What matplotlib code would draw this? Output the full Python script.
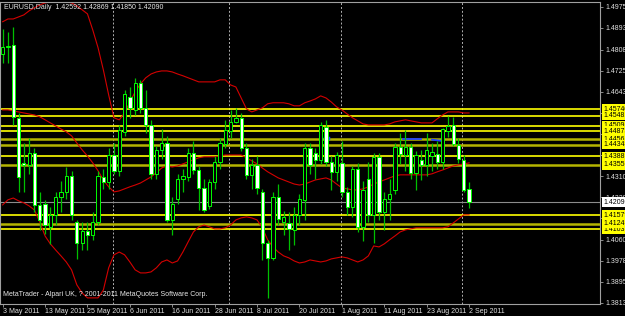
import matplotlib
matplotlib.use('Agg')
import matplotlib.pyplot as plt

plt.rcParams['font.family'] = ['Liberation Sans', 'DejaVu Sans']

# EURUSD daily, 3 May 2011 .. 2 Sep 2011
opens = [1.4790, 1.4818, 1.4826, 1.4540, 1.4363, 1.4355, 1.4400, 1.4198, 1.4200, 1.4110,
         1.4160, 1.4230, 1.4250, 1.4310, 1.4131, 1.4049, 1.4095, 1.4080, 1.4130, 1.4308,
         1.4287, 1.4395, 1.4330, 1.4486, 1.4622, 1.4571, 1.4677, 1.4580, 1.4512, 1.4320,
         1.4414, 1.4441, 1.4139, 1.4221, 1.4300, 1.4308, 1.4402, 1.4335, 1.4264, 1.4194,
         1.4288, 1.4366, 1.4437, 1.4488, 1.4524, 1.4540, 1.4422, 1.4316, 1.4355, 1.4250,
         1.4049, 1.3990, 1.4230, 1.4130, 1.4127, 1.4100, 1.4159, 1.4218, 1.4422, 1.4402,
         1.4375, 1.4504, 1.4367, 1.4327, 1.4363, 1.4249, 1.4190, 1.4340, 1.4110, 1.4300,
         1.4160, 1.4386, 1.4170, 1.4220, 1.4257, 1.4425, 1.4394, 1.4425, 1.4323, 1.4375,
         1.4355, 1.4390, 1.4398, 1.4367, 1.4488, 1.4512, 1.4433, 1.4375, 1.42592]
highs = [1.4889, 1.4877, 1.4897, 1.4559, 1.4441, 1.4460, 1.4420, 1.4250, 1.4218, 1.4190,
         1.4250, 1.4290, 1.4345, 1.4330, 1.4140, 1.4130, 1.4130, 1.4170, 1.4330, 1.4340,
         1.4420, 1.4440, 1.4510, 1.4650, 1.4660, 1.4697, 1.4690, 1.4650, 1.4530, 1.4430,
         1.4495, 1.4470, 1.4230, 1.4320, 1.4340, 1.4420, 1.4450, 1.4350, 1.4300, 1.4300,
         1.4390, 1.4460, 1.4532, 1.4571, 1.4579, 1.4560, 1.4440, 1.4380, 1.4390, 1.4260,
         1.4060, 1.4250, 1.4280, 1.4175, 1.4170, 1.4190, 1.4240, 1.4440, 1.4440, 1.4420,
         1.4524, 1.4532, 1.4390, 1.4406, 1.4450, 1.4270, 1.4350, 1.4363, 1.4290, 1.4367,
         1.4400, 1.4400, 1.4250, 1.4300, 1.4440, 1.4480, 1.4492, 1.4440, 1.4410, 1.4414,
         1.4480, 1.4440, 1.4450, 1.4500, 1.4547, 1.4544, 1.4461, 1.4394, 1.42869]
lows = [1.4755, 1.4755, 1.4512, 1.4249, 1.4249, 1.4320, 1.4170, 1.4100, 1.4085, 1.4045,
        1.4120, 1.4170, 1.4220, 1.4140, 1.3987, 1.4020, 1.4020, 1.4060, 1.4120, 1.4260,
        1.4260, 1.4320, 1.4310, 1.4470, 1.4540, 1.4550, 1.4560, 1.4480, 1.4300, 1.4300,
        1.4380, 1.4130, 1.4080, 1.4200, 1.4250, 1.4290, 1.4320, 1.4178, 1.4170, 1.4180,
        1.4260, 1.4340, 1.4420, 1.4460, 1.4520, 1.4410, 1.4300, 1.4260, 1.4240, 1.3980,
        1.3833, 1.3980, 1.4120, 1.4080, 1.4021, 1.4040, 1.4120, 1.4140, 1.4320, 1.4300,
        1.4360, 1.4350, 1.4257, 1.4290, 1.4230, 1.4160, 1.4150, 1.4090, 1.4057, 1.4130,
        1.4050, 1.4140, 1.4100, 1.4140, 1.4240, 1.4360, 1.4330, 1.4300, 1.4257, 1.4296,
        1.4310, 1.4330, 1.4340, 1.4340, 1.4465, 1.4430, 1.4363, 1.4250, 1.41850]
closes = [1.4818, 1.4822, 1.4544, 1.4308, 1.4355, 1.4400, 1.4198, 1.4140, 1.4120, 1.4160,
          1.4230, 1.4250, 1.4310, 1.4160, 1.4049, 1.4095, 1.4080, 1.4130, 1.4312, 1.4288,
          1.4395, 1.4330, 1.4492, 1.4634, 1.4580, 1.4677, 1.4580, 1.4512, 1.4320, 1.4414,
          1.4441, 1.4139, 1.4200, 1.4300, 1.4310, 1.4402, 1.4335, 1.4264, 1.4178, 1.4288,
          1.4366, 1.4441, 1.4492, 1.4524, 1.4540, 1.4422, 1.4316, 1.4355, 1.4264, 1.4049,
          1.3990, 1.4230, 1.4143, 1.4150, 1.4104, 1.4159, 1.4220, 1.4422, 1.4355, 1.4375,
          1.4512, 1.4367, 1.4327, 1.4394, 1.4249, 1.4190, 1.4340, 1.4110, 1.4257, 1.4160,
          1.4386, 1.4170, 1.4220, 1.4240, 1.4425, 1.4398, 1.4425, 1.4323, 1.4394, 1.4355,
          1.4414, 1.4406, 1.4367, 1.4496, 1.4508, 1.4437, 1.4378, 1.4257, 1.42090]

# Bollinger bands as drawn on the chart
bb_upper = [1.4917, 1.4928, 1.4928, 1.4936, 1.4944, 1.4960, 1.4972, 1.4983, 1.4991, 1.4995,
            1.4995, 1.4995, 1.4995, 1.4991, 1.4979, 1.4964, 1.4948, 1.4885, 1.4815, 1.4728,
            1.4630, 1.4540, 1.4532, 1.4559, 1.4602, 1.4642, 1.4673, 1.4697, 1.4712, 1.4720,
            1.4724, 1.4724, 1.4720, 1.4712, 1.4705, 1.4697, 1.4689, 1.4681, 1.4681, 1.4681,
            1.4681, 1.4689, 1.4689, 1.4669, 1.4661, 1.4618, 1.4575, 1.4563, 1.4571, 1.4579,
            1.4595, 1.4599, 1.4599, 1.4599, 1.4595, 1.4587, 1.4587, 1.4599, 1.4606, 1.4614,
            1.4626, 1.4618, 1.4602, 1.4583, 1.4571, 1.4555, 1.4540, 1.4528, 1.4516, 1.4512,
            1.4512, 1.4512, 1.4512, 1.4516, 1.4524, 1.4528, 1.4532, 1.4528, 1.4524, 1.4520,
            1.4520, 1.4520, 1.4536, 1.4551, 1.4563, 1.4563, 1.4563, 1.4559, 1.4559]
bb_mid = [1.4571, 1.4571, 1.4567, 1.4563, 1.4559, 1.4555, 1.4551, 1.4544, 1.4532, 1.4520,
          1.4508, 1.4496, 1.4485, 1.4469, 1.4441, 1.4414, 1.4390, 1.4363, 1.4332, 1.4296,
          1.4269, 1.4249, 1.4253, 1.4261, 1.4269, 1.4276, 1.4284, 1.4296, 1.4308, 1.4324,
          1.4343, 1.4351, 1.4347, 1.4351, 1.4359, 1.4367, 1.4375, 1.4383, 1.4387, 1.4387,
          1.4387, 1.4390, 1.4394, 1.4394, 1.4394, 1.4394, 1.4383, 1.4371, 1.4359, 1.4343,
          1.4328, 1.4316, 1.4304, 1.4296, 1.4288, 1.4280, 1.4276, 1.4280, 1.4288, 1.4296,
          1.4300, 1.4304, 1.4296, 1.4280, 1.4265, 1.4261, 1.4257, 1.4257, 1.4261, 1.4269,
          1.4280, 1.4288, 1.4296, 1.4304, 1.4312, 1.4316, 1.4316, 1.4316, 1.4316, 1.4316,
          1.4316, 1.4320, 1.4328, 1.4335, 1.4343, 1.4351, 1.4355, 1.4359, 1.4363]
bb_lower = [1.4198, 1.4218, 1.4225, 1.4214, 1.4206, 1.4194, 1.4178, 1.4131, 1.4076, 1.4045,
            1.4021, 1.3998, 1.3974, 1.3943, 1.3884, 1.3852, 1.3833, 1.3833, 1.3833, 1.3864,
            1.3951, 1.4002, 1.4013, 1.4002, 1.3974, 1.3943, 1.3931, 1.3931, 1.3935, 1.3951,
            1.3974, 1.3982, 1.3970, 1.3978, 1.4013, 1.4053, 1.4092, 1.4112, 1.4119, 1.4112,
            1.4104, 1.4104, 1.4108, 1.4119, 1.4139, 1.4147, 1.4151, 1.4147, 1.4139, 1.4108,
            1.4061, 1.4033, 1.4013, 1.3998, 1.3990, 1.3978, 1.3970, 1.3974, 1.3982, 1.3978,
            1.3974, 1.3978, 1.3986, 1.3990, 1.3994, 1.3990, 1.3982, 1.3974, 1.3982, 1.3998,
            1.4037, 1.4033, 1.4045, 1.4061, 1.4076, 1.4092, 1.4100, 1.4104, 1.4108, 1.4108,
            1.4108, 1.4108, 1.4108, 1.4108, 1.4112, 1.4127, 1.4143, 1.4159, 1.4159]

# horizontal levels (yellow lines with their labels)
levels_bright = [1.45740, 1.45481, 1.45093, 1.44873, 1.43889, 1.41579, 1.41031]
levels_dim = [1.44561, 1.44348, 1.43551, 1.41243]
last_price = 1.42090

price_ticks = [1.49755, 1.48930, 1.48080, 1.47255, 1.46430, 1.45605, 1.44780, 1.43955,
               1.43105, 1.42280, 1.41455, 1.40605, 1.39780, 1.38955, 1.38130]
date_pos = [0, 8, 16, 24, 32, 40, 48, 56, 64, 72, 80, 88]
date_labels = ['3 May 2011', '13 May 2011', '25 May 2011', '6 Jun 2011', '16 Jun 2011',
               '28 Jun 2011', '8 Jul 2011', '20 Jul 2011', '1 Aug 2011', '11 Aug 2011',
               '23 Aug 2011', '2 Sep 2011']
month_starts = [21, 43, 64, 87]

fig = plt.figure(figsize=(6.25, 3.16), dpi=100, facecolor='black')
ax = fig.add_axes([0.0, 0.038, 0.96, 0.956])
ax.set_facecolor('black')

n = len(closes)
xs = list(range(n))

# month separators
for m in month_starts:
    ax.axvline(m - 0.25, color='#b0b0b0', ls=(0, (2, 2)), lw=0.7, zorder=1)

# levels
for lv in levels_bright:
    ax.axhline(lv, color='#ffff00', lw=1.2, zorder=1.5)
for lv in levels_dim:
    ax.axhline(lv, color='#b4b400', lw=1.8, zorder=1.5)
ax.axhline(last_price, color='#8c8c8c', lw=0.8, zorder=1.4)

# bollinger bands
for band in (bb_upper, bb_mid, bb_lower):
    ax.plot(xs, band, color='#d40000', lw=0.8, zorder=2)

# blue marks
ax.plot([75.6, 79.0], [1.4457, 1.4457], color='#2040ff', lw=1.3, zorder=2.1)
ax.plot([81.0, 82.6], [1.4454, 1.4450], color='#2040ff', lw=1.3, zorder=2.1)
ax.plot([60.8, 61.4], [1.4462, 1.4462], color='#2040ff', lw=2.5, zorder=2.1)

# candles
ax.vlines(xs, lows, highs, color='#00c000', lw=0.9, zorder=3)
for i in xs:
    o, c = opens[i], closes[i]
    fill = 'black' if c >= o else 'white'
    h = max(abs(c - o), 0.00025)
    ax.bar(i, h, bottom=min(o, c), width=0.62, color=fill,
           edgecolor='#00ff00', linewidth=0.7, zorder=4)

ax.set_xlim(-0.5, 112.7)
ax.set_ylim(1.3809, 1.4995)

for side in ['top', 'right', 'bottom', 'left']:
    ax.spines[side].set_color('#a0a0a0')
    ax.spines[side].set_linewidth(0.8)

fs = 5.0
ax.yaxis.tick_right()
ax.set_yticks(price_ticks)
ax.set_yticklabels([f'{p:.5f}' for p in price_ticks])
ax.tick_params(axis='y', colors='#a0a0a0', labelcolor='#e0e0e0', length=2,
               width=0.6, pad=2, labelsize=fs)
ax.set_xticks(date_pos)
ax.set_xticklabels(date_labels)
ax.tick_params(axis='x', colors='#a0a0a0', labelcolor='#e0e0e0', length=2,
               width=0.6, pad=1, labelsize=fs)
for lab in ax.get_xticklabels():
    lab.set_horizontalalignment('left')

# level labels on the price scale
ytr = ax.get_yaxis_transform()
for lv in levels_bright + levels_dim:
    ax.text(1.006, lv, f'{lv:.5f}', transform=ytr, color='black', fontsize=fs,
            va='center', ha='left', clip_on=False, zorder=6,
            bbox=dict(facecolor='#ffff00', edgecolor='none', pad=0.9))
ax.text(1.006, last_price, f'{last_price:.5f}', transform=ytr, color='black',
        fontsize=fs, va='center', ha='left', clip_on=False, zorder=6,
        bbox=dict(facecolor='white', edgecolor='none', pad=0.9))

ax.text(0.006, 0.992, 'EURUSD,Daily  1.42592 1.42869 1.41850 1.42090',
        transform=ax.transAxes, color='#e8e8e8', fontsize=fs, va='top', ha='left')
ax.text(0.005, 0.02, 'MetaTrader - Alpari UK, ? 2001-2011 MetaQuotes Software Corp.',
        transform=ax.transAxes, color='#e8e8e8', fontsize=fs, va='bottom', ha='left')

fig.savefig('out.png', dpi=100, facecolor='black')
